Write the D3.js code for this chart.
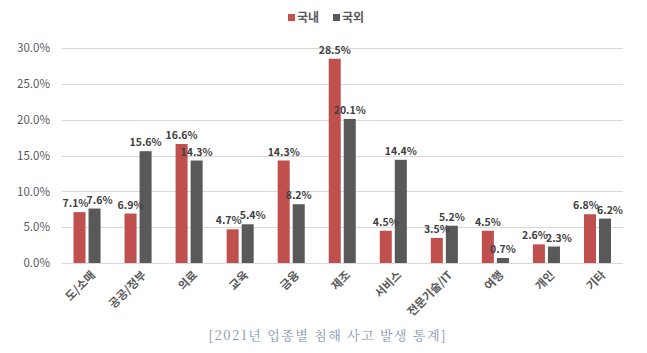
<!DOCTYPE html>
<html><head><meta charset="utf-8">
<script src="https://cdn.jsdelivr.net/npm/d3@7"></script>
<style>
html,body{margin:0;padding:0;background:#fff;}
svg{display:block;}
</style></head>
<body>
<svg id="c" width="647" height="353"></svg>
<script>
const categories = ["도/소매","공공/정부","의료","교육","금융","제조","서비스","전문기술/IT","여행","개인","기타"];
const seriesNames = ["국내","국외"];
const domestic = [7.1, 6.9, 16.6, 4.7, 14.3, 28.5, 4.5, 3.5, 4.5, 2.6, 6.8];
const overseas = [7.6, 15.6, 14.3, 5.4, 8.2, 20.1, 14.4, 5.2, 0.7, 2.3, 6.2];
const yTicks = [0, 5, 10, 15, 20, 25, 30];
const caption = "[2021년 업종별 침해 사고 발생 통계]";
const colors = ["#C0504D", "#595959"];

(function(){
const svg = d3.select("#c");
const font = "'Noto Sans CJK KR','Noto Sans',sans-serif";
const pLeft = 61.5, pRight = 623, pTop = 48, pBottom = 263;

const y = d3.scaleLinear().domain([0, 30]).range([pBottom, pTop]);
const x0 = d3.scaleBand().domain(categories).range([pLeft, pRight]).paddingInner(0.47).paddingOuter(0.235);
const x1 = d3.scaleBand().domain(seriesNames).range([0, x0.bandwidth()]).paddingInner(0.2);
const color = d3.scaleOrdinal().domain(seriesNames).range(colors);

svg.append("g").selectAll("line").data(yTicks).join("line")
  .attr("x1", pLeft).attr("x2", pRight)
  .attr("y1", d => Math.round(y(d)) + 0.5).attr("y2", d => Math.round(y(d)) + 0.5)
  .attr("stroke", "#d9d9d9").attr("stroke-width", 1);

const yAxis = d3.axisLeft(y).tickValues(yTicks).tickFormat(d => d.toFixed(1) + "%").tickSize(0).tickPadding(0);
const ya = svg.append("g").attr("transform", "translate(50,0)").call(yAxis);
ya.select(".domain").remove();
ya.selectAll("text").attr("font-family", font).attr("font-size", 11.5).attr("fill", "#595959");

const rows = categories.map((c, i) => {
  const close = Math.abs(y(domestic[i]) - y(overseas[i])) < 12;
  return {cat: c, vals: [
    {s: seriesNames[0], v: domestic[i], dx: close ? -4 : 0},
    {s: seriesNames[1], v: overseas[i], dx: close ? 5 : 0}]};
});

const g = svg.append("g").selectAll("g").data(rows).join("g")
  .attr("transform", d => `translate(${x0(d.cat)},0)`);
g.selectAll("rect").data(d => d.vals).join("rect")
  .attr("x", d => x1(d.s)).attr("width", x1.bandwidth())
  .attr("y", d => y(d.v)).attr("height", d => y(0) - y(d.v))
  .attr("fill", d => color(d.s));
g.selectAll("text").data(d => d.vals).join("text")
  .attr("x", d => x1(d.s) + x1.bandwidth() / 2 + d.dx)
  .attr("y", d => y(d.v) - 5)
  .attr("text-anchor", "middle")
  .attr("font-family", font).attr("font-size", 10.5).attr("font-weight", "bold")
  .attr("fill", "#404040")
  .text(d => d.v.toFixed(1) + "%");

const xAxis = d3.axisBottom(x0).tickSize(0).tickPadding(0);
const xa = svg.append("g").attr("transform", `translate(0,${pBottom})`).call(xAxis);
xa.select(".domain").remove();
xa.selectAll("text")
  .attr("font-family", font).attr("font-size", 11.5).attr("font-weight", "bold").attr("fill", "#595959")
  .attr("text-anchor", "end").attr("dy", "0.35em")
  .attr("transform", "translate(6,10) rotate(-45)");

const lg = svg.append("g").selectAll("g").data(seriesNames).join("g")
  .attr("transform", (d, i) => `translate(${288 + i * 45},18)`);
lg.append("rect").attr("x", 0).attr("y", -4).attr("width", 7).attr("height", 7).attr("fill", d => color(d));
lg.append("text").attr("x", 9).attr("y", 0).attr("dy", "0.35em")
  .attr("font-family", font).attr("font-size", 12).attr("font-weight", "bold").attr("fill", "#595959").text(d => d);

svg.append("text").attr("x", 327).attr("y", 340).attr("text-anchor", "middle")
  .attr("font-family", "'Noto Serif CJK KR','DejaVu Serif','Liberation Serif',serif")
  .attr("font-size", 13).attr("fill", "#8496b0")
  .attr("textLength", 237).attr("lengthAdjust", "spacing")
  .text(caption);
})();
</script>
</body></html>
